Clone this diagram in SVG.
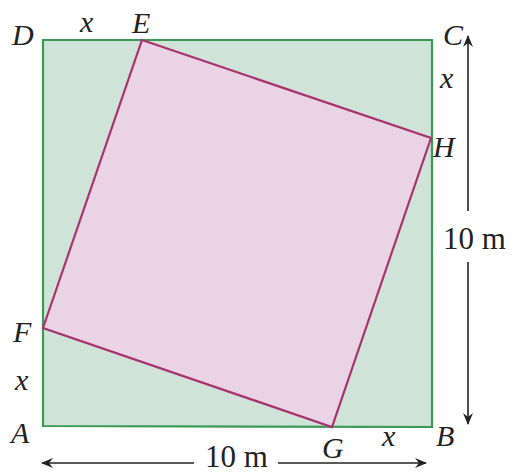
<svg xmlns="http://www.w3.org/2000/svg" width="514" height="474" viewBox="0 0 514 474">
<style>
.lbl{font-family:"Liberation Serif","Times New Roman",serif;font-style:italic;font-size:30px;fill:#222}
.num{font-family:"Liberation Serif","Times New Roman",serif;font-size:31px;fill:#222}
.arr{stroke:#222;stroke-width:1.6;fill:none}
</style>
<defs>
<marker id="ah" viewBox="0 0 12 10" refX="11" refY="5" markerWidth="12" markerHeight="10" markerUnits="userSpaceOnUse" orient="auto">
<path d="M0,0 L12,5 L0,10 L4,5 Z" fill="#222"/>
</marker>
</defs>
<rect width="514" height="474" fill="#fff"/>
<g id="outer-square">
<polygon points="43,40 432,40 432,427 43,426" fill="#cfe3d9" stroke="#3a9a52" stroke-width="2.2"/>
</g>
<g id="inner-square">
<polygon points="142,40 431,138 332,427 43,328" fill="#ead3e5" stroke="#a8336e" stroke-width="2.2"/>
</g>
<g id="connectors">
<line class="arr" x1="468" y1="211" x2="468" y2="36" marker-end="url(#ah)"/>
<line class="arr" x1="468" y1="262" x2="468" y2="424" marker-end="url(#ah)"/>
<line class="arr" x1="194" y1="463" x2="42" y2="463" marker-end="url(#ah)"/>
<line class="arr" x1="278" y1="463" x2="426" y2="463" marker-end="url(#ah)"/>
</g>
<g id="labels">
<text class="lbl" x="12" y="45">D</text>
<text class="lbl" x="80" y="32">x</text>
<text class="lbl" x="132" y="33">E</text>
<text class="lbl" x="443" y="45">C</text>
<text class="lbl" x="440" y="88">x</text>
<text class="lbl" x="433" y="157">H</text>
<text class="lbl" x="13" y="342">F</text>
<text class="lbl" x="15" y="390">x</text>
<text class="lbl" x="11" y="443">A</text>
<text class="lbl" x="322" y="458" font-style="normal">G</text>
<text class="lbl" x="382" y="446">x</text>
<text class="lbl" x="436" y="446">B</text>
<text class="num" x="443" y="249">10 m</text>
<text class="num" x="205" y="467" font-size="28">10 m</text>
</g>
</svg>
